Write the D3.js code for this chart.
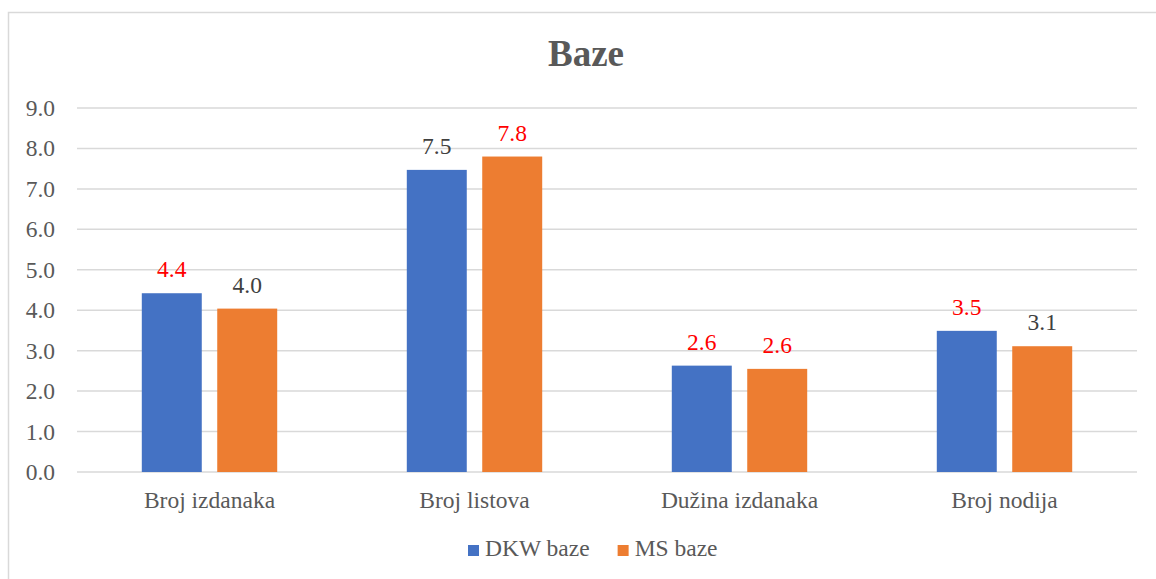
<!DOCTYPE html>
<html>
<head>
<meta charset="utf-8">
<script src="https://cdn.jsdelivr.net/npm/d3@7"></script>
</head>
<body style="margin:0;background:#fff">
<svg id="chart"></svg>
<script>
// data
const categories = ["Broj izdanaka", "Broj listova", "Dužina izdanaka", "Broj nodija"];
const seriesNames = ["DKW baze", "MS baze"];
const dkwValues = [4.42, 7.47, 2.63, 3.49];
const msValues = [4.04, 7.80, 2.55, 3.11];
const dkwLabels = ["4.4", "7.5", "2.6", "3.5"];
const msLabels = ["4.0", "7.8", "2.6", "3.1"];
const dkwLabelColors = ["#ff0000", "#404040", "#ff0000", "#ff0000"];
const msLabelColors = ["#404040", "#ff0000", "#ff0000", "#404040"];
const yTicks = [0, 1, 2, 3, 4, 5, 6, 7, 8, 9];

const W = 1156, H = 579;
const margin = { top: 108, right: 19, bottom: 107, left: 77 };
const width = W - margin.left - margin.right;
const height = H - margin.top - margin.bottom;
const colors = ["#4472c4", "#ed7d31"];
const serif = "'Liberation Serif'";

const svg = d3.select("#chart").attr("width", W).attr("height", H);

// chart area border
svg.append("rect")
  .attr("x", 8.5).attr("y", 12.5)
  .attr("width", 1170).attr("height", 600)
  .attr("fill", "none").attr("stroke", "#d9d9d9").attr("stroke-width", 1.5);

// title
svg.append("text")
  .attr("x", 586).attr("y", 66)
  .attr("text-anchor", "middle")
  .style("font-family", serif)
  .style("font-size", "37px").style("font-weight", "bold")
  .attr("fill", "#595959")
  .text("Baze");

const g = svg.append("g").attr("transform", `translate(${margin.left},${margin.top})`);

const x0 = d3.scaleBand().domain(categories).range([0, width]).paddingInner(0.489).paddingOuter(0.2445);
const x1 = d3.scaleBand().domain(seriesNames).range([0, x0.bandwidth()]).paddingInner(0.205);
const y = d3.scaleLinear().domain([0, 9]).range([height, 0]);

// gridlines
g.append("g")
  .selectAll("line")
  .data(yTicks)
  .join("line")
  .attr("x1", 0).attr("x2", width)
  .attr("y1", d => y(d)).attr("y2", d => y(d))
  .attr("stroke", "#d9d9d9").attr("stroke-width", 1.5);

// y axis labels
const yAxis = g.append("g")
  .call(d3.axisLeft(y).tickValues(yTicks).tickFormat(d3.format(".1f")).tickSize(0).tickPadding(22));
yAxis.attr("font-family", null).attr("font-size", null);
yAxis.select(".domain").remove();
yAxis.selectAll("text")
  .style("font-family", serif).style("font-size", "23.5px")
  .attr("fill", "#595959");

// x axis labels
const xAxis = g.append("g").attr("transform", `translate(0,${height})`)
  .call(d3.axisBottom(x0).tickSize(0).tickPadding(19));
xAxis.attr("font-family", null).attr("font-size", null);
xAxis.select(".domain").remove();
xAxis.selectAll("text")
  .style("font-family", serif).style("font-size", "23.5px")
  .attr("fill", "#595959");

// bars
const rows = categories.map((c, i) => ({
  cat: c,
  vals: [
    { s: seriesNames[0], v: dkwValues[i], label: dkwLabels[i], lc: dkwLabelColors[i], col: colors[0] },
    { s: seriesNames[1], v: msValues[i], label: msLabels[i], lc: msLabelColors[i], col: colors[1] }
  ]
}));

const groups = g.append("g").selectAll("g")
  .data(rows)
  .join("g")
  .attr("transform", d => `translate(${x0(d.cat)},0)`);

groups.selectAll("rect")
  .data(d => d.vals)
  .join("rect")
  .attr("x", d => x1(d.s))
  .attr("y", d => y(d.v))
  .attr("width", x1.bandwidth())
  .attr("height", d => y(0) - y(d.v))
  .attr("fill", d => d.col);

groups.selectAll("text.val")
  .data(d => d.vals)
  .join("text")
  .attr("class", "val")
  .attr("x", d => x1(d.s) + x1.bandwidth() / 2)
  .attr("y", d => y(d.v) - 16)
  .attr("text-anchor", "middle")
  .style("font-family", serif).style("font-size", "23.5px")
  .attr("fill", d => d.lc)
  .text(d => d.label);

// legend
const legend = svg.append("g").attr("transform", "translate(468,545)");
let lx = 0;
seriesNames.forEach((name, i) => {
  const item = legend.append("g").attr("transform", `translate(${lx},0)`);
  item.append("rect").attr("width", 11).attr("height", 11).attr("fill", colors[i]);
  const t = item.append("text")
    .attr("x", 17).attr("y", 11)
    .style("font-family", serif).style("font-size", "23.5px")
    .attr("fill", "#595959")
    .text(name);
  lx += 17 + t.node().getComputedTextLength() + 28;
});
</script>
</body>
</html>
